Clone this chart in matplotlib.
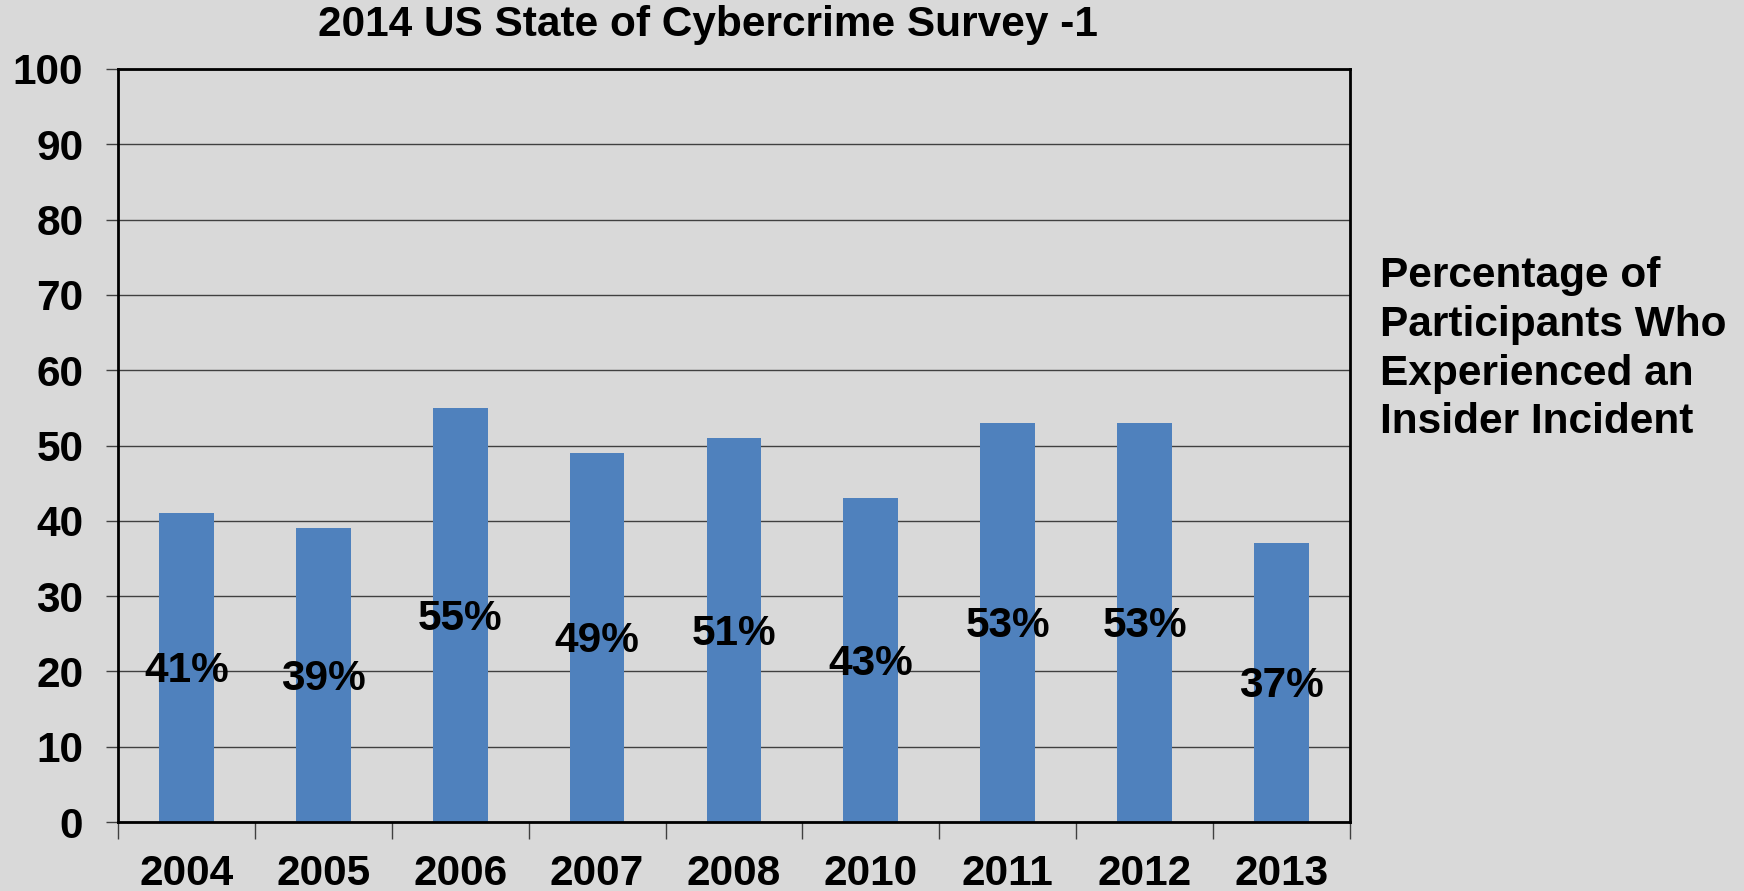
import numpy as np
import matplotlib.pyplot as plt

years = ['2004', '2005', '2006', '2007', '2008', '2010', '2011', '2012', '2013']
pct = [41, 39, 55, 49, 51, 43, 53, 53, 37]
title = '2014 US State of Cybercrime Survey -1'
side_text = 'Percentage of\nParticipants Who\nExperienced an\nInsider Incident'

plt.rcParams['font.family'] = ['Liberation Sans', 'DejaVu Sans']
plt.rcParams['font.weight'] = 'bold'

bg = '#d9d9d9'
fig = plt.figure(figsize=(17.44, 8.91), dpi=100, facecolor=bg)
ax = fig.add_axes([0.0677, 0.0774, 0.7063, 0.8452], facecolor=bg)

x = np.arange(len(years))
ax.bar(x, pct, width=0.4, color='#4f81bd', zorder=2)
for xi, v in zip(x, pct):
    ax.text(xi, v / 2 - 0.5, f'{v}%', ha='center', va='center',
            fontsize=30.5, fontweight='bold', zorder=3)

ax.set_xlim(-0.5, len(years) - 0.5)
ax.set_ylim(0, 100)
ax.set_yticks(range(0, 101, 10))
ax.yaxis.grid(True, color='#404040', linewidth=1.0, zorder=1)

# year labels sit between the tick marks
ax.set_xticks(np.arange(-0.5, len(years)), minor=False)
ax.set_xticklabels([])
ax.set_xticks(x, minor=True)
ax.set_xticklabels(years, minor=True)
ax.tick_params(axis='x', which='major', length=12, width=1, direction='out', color='#404040')
ax.tick_params(axis='x', which='minor', length=0, pad=23, labelsize=30.5)
ax.tick_params(axis='y', length=9, width=1, direction='out', pad=16, labelsize=30.5, color='#404040')

for s in ax.spines.values():
    s.set_linewidth(2)
    s.set_color('black')

fig.text(0.406, 0.972, title, ha='center', va='center', fontsize=30.5, fontweight='bold')
fig.text(0.791, 0.608, side_text, ha='left', va='center', fontsize=30.5,
         fontweight='bold', linespacing=1.28)

fig.savefig('out.png', dpi=100, facecolor=bg)
